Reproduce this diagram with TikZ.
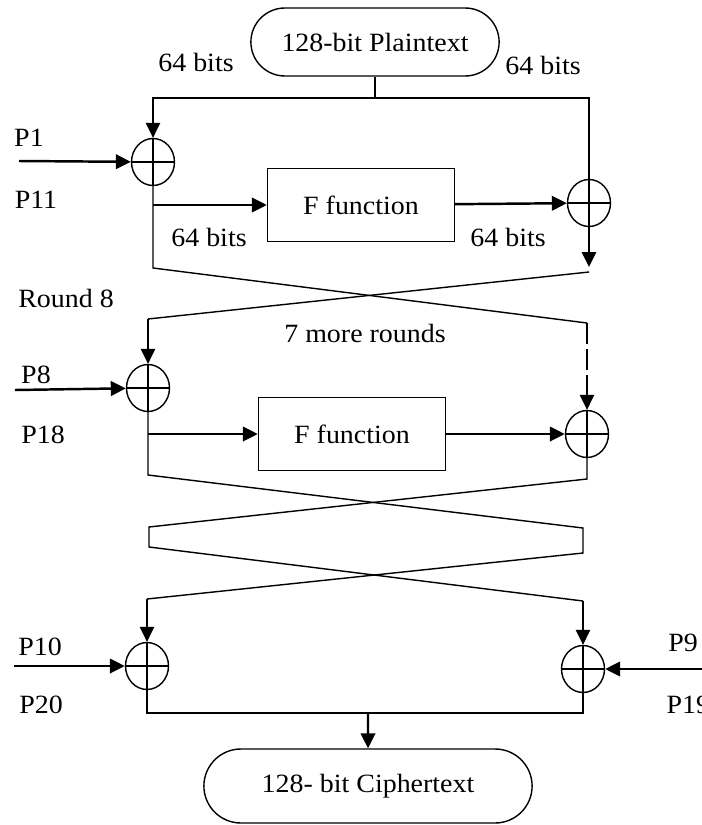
\documentclass[tikz,border=0pt]{standalone}
\usepackage{fontspec}
\setmainfont{Liberation Serif}[FakeStretch=1.06]
\usetikzlibrary{arrows.meta,shapes.geometric,shapes.misc}

\begin{document}
\begin{tikzpicture}[x=0.02cm, y=-0.02cm, >={Triangle[length=0.3cm,width=0.29cm]}, font=\fontsize{15}{18}\selectfont, line width=0.8pt]
	\tikzset{xorop/.style={draw, ellipse, minimum width=0.86cm, minimum height=0.94cm, inner sep=0pt, path picture={\draw (path picture bounding box.north) -- (path picture bounding box.south) (path picture bounding box.west) -- (path picture bounding box.east);}},
		fbox/.style={draw, rectangle, minimum width=3.74cm, minimum height=1.46cm},
		term/.style={draw, rounded rectangle, minimum height=1.36cm},
		feed/.style={->, line width=1.4pt}}
	\useasboundingbox (0,0) rectangle (702,825);
	% input and first round
	\node[term, minimum width=5.2cm] (pt) at (375,42) {128-bit Plaintext};
	\node (b1) at (196,62) {64 bits};
	\node (b2) at (543,65) {64 bits};
	\coordinate (tl) at (153,98);
	\coordinate (tr) at (589,98);
	\node[xorop] (x1) at (153,162) {};
	\node[xorop] (x2) at (589,203) {};
	\node[fbox] (f1) at (361,205) {F function};
	\node (b3) at (209,237) {64 bits};
	\node (b4) at (508,237) {64 bits};
	\node (lp1) at (29,138) {P1};
	\node (lp11) at (36,200) {P11};
	\coordinate (p1) at (19,161);
	\draw (pt.south) -- (pt.south |- tl);
	\draw[->] (pt.south |- tl) -- (tl) -- (x1);
	\draw (pt.south |- tl) -- (tr) -- (x2);
	\draw[feed] (p1) -- (x1);
	\draw[feed] (x1 |- f1) -- (f1);
	\draw[feed] (f1) -- (x2);
	% first swap
	\coordinate (a1) at (153,268);
	\coordinate (a2) at (589,267);
	\coordinate (a3) at (589,272);
	\coordinate (c1l) at (148,319);
	\coordinate (c1r) at (587,323);
	\draw (x1) -- (a1) -- (c1r);
	\draw[->] (x2) -- (a2);
	\draw (a3) -- (c1l);
	\node (r8) at (66,298) {Round 8};
	\node (more) at (365,333) {7 more rounds};
	% round 8
	\node[xorop] (x3) at (148,388) {};
	\node[xorop] (x4) at (587,434) {};
	\node[fbox] (f2) at (352,434) {F function};
	\node (lp8) at (36,375) {P8};
	\node (lp18) at (43,435) {P18};
	\coordinate (p8) at (15,390);
	\draw[->] (c1l) -- (x3);
	\draw[->, dash pattern=on 0.42cm off 0.1cm] (c1r) -- (x4);
	\draw[feed] (p8) -- (x3);
	\draw[feed] (x3 |- f2) -- (f2);
	\draw[feed] (f2) -- (x4);
	% second and third swap
	\coordinate (d1) at (148,475);
	\coordinate (d2) at (587,479);
	\coordinate (e1) at (149,527);
	\coordinate (e2) at (583,528);
	\coordinate (g1) at (149,547);
	\coordinate (g2) at (583,553);
	\coordinate (h1) at (147,599);
	\coordinate (h2) at (583,601);
	\draw (x3) -- (d1) -- (e2) -- (g2) -- (h1);
	\draw (x4) -- (d2) -- (e1) -- (g1) -- (h2);
	% output whitening
	\node[xorop] (x5) at (147,666) {};
	\node[xorop] (x6) at (583,669) {};
	\node (lp10) at (40,647) {P10};
	\node (lp20) at (41,705) {P20};
	\node (lp9) at (683,643) {P9};
	\node[anchor=west, inner sep=0pt] (lp19) at (666,705) {P19};
	\coordinate (p10) at (14,666);
	\coordinate (p9) at (702,669);
	\draw[->] (h1) -- (x5);
	\draw[->] (h2) -- (x6);
	\draw[feed] (p10) -- (x5);
	\draw[feed] (p9) -- (x6);
	\node[term, minimum width=6.8cm, minimum height=1.48cm] (ct) at (368,786) {128- bit Ciphertext};
	\coordinate (k1) at (147,713);
	\coordinate (k2) at (583,713);
	\draw (x5) -- (k1) -- (k2) -- (x6);
	\draw[feed] (ct.north |- k1) -- (ct);
\end{tikzpicture}
\end{document}
